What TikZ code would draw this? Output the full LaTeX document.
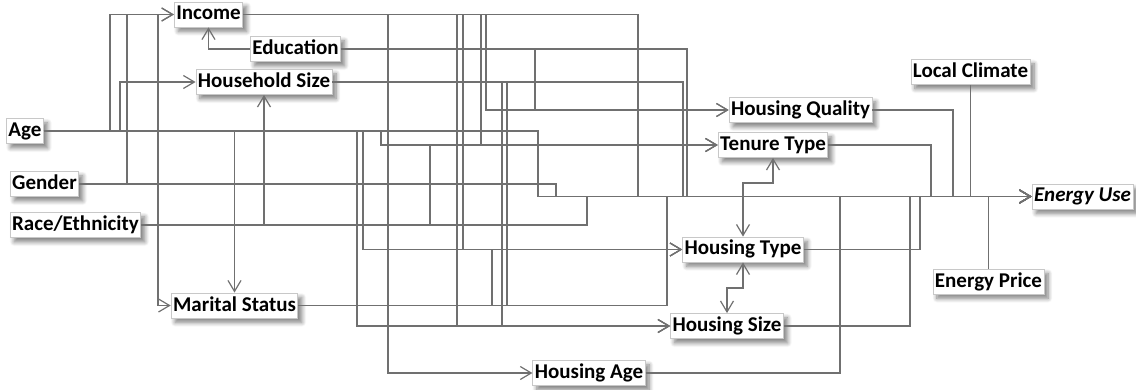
\documentclass[tikz,border=0pt]{standalone}
\usepackage{fontspec}
\setmainfont{Carlito}
\usetikzlibrary{arrows.meta,shadows.blur}
\definecolor{linkcolor}{RGB}{112,112,112}
\definecolor{framecolor}{RGB}{200,200,200}
\tikzset{
	factor/.style={
		rectangle,
		draw=framecolor,
		thin,
		fill=white,
		font=\fontsize{10.5}{12}\selectfont\bfseries,
		text height=7.5pt,
		text depth=2pt,
		inner xsep=1pt,
		inner ysep=1.5pt,
		blur shadow={shadow xshift=2pt,shadow yshift=-2.2pt,shadow blur steps=8,shadow blur radius=2.2pt,shadow opacity=50}
	},
	outcome/.style={
		factor,
		font=\fontsize{10.5}{12}\selectfont\bfseries\itshape
	},
	link/.style={
		draw=linkcolor,
		line width=0.6pt
	},
	arrow/.style={
		link,
		-{Straight Barb[length=5.5pt,width=6.5pt]}
	},
	twoway/.style={
		link,
		{Straight Barb[length=5.5pt,width=6.5pt]}-{Straight Barb[length=5.5pt,width=6.5pt]}
	},
}

\begin{document}
\begin{tikzpicture}[x=0.5pt,y=-0.5pt]
	\useasboundingbox (0,0) rectangle (1136,390);
	% individual factors
	\node[factor] (age) at (25,131) {Age};
	\node[factor] (gender) at (44.5,184) {Gender};
	\node[factor] (race) at (75.5,225) {Race/Ethnicity};
	\node[factor] (income) at (208.5,14.5) {Income};
	\node[factor] (education) at (295.5,49) {Education};
	\node[factor] (hhsize) at (264,82) {Household Size};
	\node[factor] (marital) at (234.5,305.5) {Marital Status};
	% housing factors
	\node[factor] (hquality) at (800.5,110) {Housing Quality};
	\node[factor] (tenure) at (773,145) {Tenure Type};
	\node[factor] (htype) at (743,249.5) {Housing Type};
	\node[factor] (hsize) at (727,326) {Housing Size};
	\node[factor] (hage) at (589,373) {Housing Age};
	% context and outcome
	\node[factor] (climate) at (970.5,72) {Local Climate};
	\node[factor] (eprice) at (988.5,281.5) {Energy Price};
	\node[outcome] (energy) at (1082.5,196.5) {Energy Use};

	% age
	\draw[arrow] (age.east) -| (110,0 |- income.west) -- (income.west);
	\draw[arrow] (age.east) -| (120,0 |- hhsize.west) -- (hhsize.west);
	\draw[arrow] (age.east) -| (marital.north);
	\draw[arrow] (age.east) -| (357,0 |- hsize.west) -- (hsize.west);
	\draw[arrow] (age.east) -| (363,0 |- htype.west) -- (htype.west);
	\draw[arrow] (age.east) -| (381,0 |- tenure.west) -- (tenure.west);
	\draw[arrow] (age.east) -| (538,0 |- energy.west) -- (energy.west);
	% gender
	\draw[arrow] (gender.east) -| (127,0 |- income.west) -- (income.west);
	\draw[arrow] (gender.east) -| (127,0 |- income.west) -| (158,0 |- marital.west) -- (marital.west);
	\draw[arrow] (gender.east) -| (556,0 |- energy.west) -- (energy.west);
	% race
	\draw[arrow] (race.east) -| (hhsize.south);
	\draw[arrow] (race.east) -| (430,0 |- tenure.west) -- (tenure.west);
	\draw[arrow] (race.east) -| (587,0 |- energy.west) -- (energy.west);
	% education
	\draw[arrow] (education.west) -| (income.south);
	\draw[arrow] (education.east) -| (535,0 |- hquality.west) -- (hquality.west);
	\draw[arrow] (education.east) -| (687,0 |- energy.west) -- (energy.west);
	% income
	\draw[arrow] (income.east) -| (388,0 |- hage.west) -- (hage.west);
	\draw[arrow] (income.east) -| (457,0 |- hsize.west) -- (hsize.west);
	\draw[arrow] (income.east) -| (463,0 |- htype.west) -- (htype.west);
	\draw[arrow] (income.east) -| (481,0 |- tenure.west) -- (tenure.west);
	\draw[arrow] (income.east) -| (486,0 |- hquality.west) -- (hquality.west);
	\draw[arrow] (income.east) -| (638,0 |- energy.west) -- (energy.west);
	% household size
	\draw[arrow] (hhsize.east) -| (502,0 |- hsize.west) -- (hsize.west);
	\draw[arrow] (hhsize.east) -| (507,0 |- marital.east) -| (667,0 |- energy.west) -- (energy.west);
	\draw[arrow] (hhsize.east) -| (683,0 |- energy.west) -- (energy.west);
	% marital status
	\draw[arrow] (marital.east) -| (492,0 |- htype.west) -- (htype.west);
	\draw[arrow] (marital.east) -| (667,0 |- energy.west) -- (energy.west);
	% housing
	\draw[arrow] (hage.east) -| (840,0 |- energy.west) -- (energy.west);
	\draw[arrow] (hsize.east) -| (910,0 |- energy.west) -- (energy.west);
	\draw[arrow] (htype.east) -| (920,0 |- energy.west) -- (energy.west);
	\draw[arrow] (tenure.east) -| (931,0 |- energy.west) -- (energy.west);
	\draw[arrow] (hquality.east) -| (953,0 |- energy.west) -- (energy.west);
	\draw[twoway] (tenure.south) |- (htype.north |- 0,183) -- (htype.north);
	\draw[twoway] (htype.south) |- (hsize.north |- 0,288) -- (hsize.north);
	% context
	\draw[arrow] (climate.south) |- (energy.west);
	\draw[arrow] (eprice.north) |- (energy.west);
\end{tikzpicture}
\end{document}
